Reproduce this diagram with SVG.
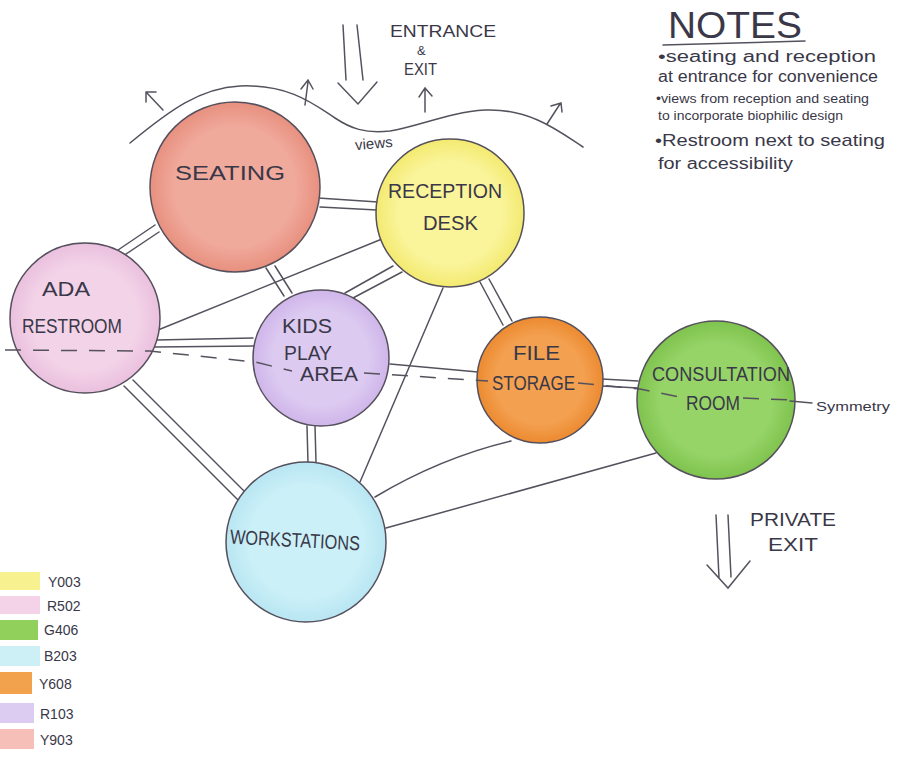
<svg xmlns="http://www.w3.org/2000/svg" width="897" height="762" viewBox="0 0 897 762">
<style>
.bg{fill:#ffffff}
.node{stroke:#55505c;stroke-width:1.5}
.lbl{font-family:"Liberation Sans",Arial,sans-serif;fill:#3a3848;font-size:20px}
.note{font-family:"Liberation Sans",Arial,sans-serif;fill:#3a3848}
.c{stroke:#55525e;stroke-width:1.5;fill:none;stroke-linecap:round}
.d{stroke:#55525e;stroke-width:1.5;fill:none;stroke-dasharray:16 12}
.sym{font-family:"Liberation Sans",Arial,sans-serif;fill:#3a3848;font-size:13px}
</style>
<defs>
<radialGradient id="gSeat" cx="0.5" cy="0.5" r="0.5"><stop offset="0.7" stop-color="#f0aa9c"/><stop offset="1" stop-color="#e8907f"/></radialGradient>
<radialGradient id="gRec" cx="0.5" cy="0.5" r="0.5"><stop offset="0.7" stop-color="#faf49a"/><stop offset="1" stop-color="#f3ea70"/></radialGradient>
<radialGradient id="gAda" cx="0.5" cy="0.5" r="0.5"><stop offset="0.7" stop-color="#f3d3e8"/><stop offset="1" stop-color="#eac0de"/></radialGradient>
<radialGradient id="gKid" cx="0.5" cy="0.5" r="0.5"><stop offset="0.7" stop-color="#dccaf1"/><stop offset="1" stop-color="#cfb6ea"/></radialGradient>
<radialGradient id="gFile" cx="0.5" cy="0.5" r="0.5"><stop offset="0.7" stop-color="#f3a050"/><stop offset="1" stop-color="#ec8a30"/></radialGradient>
<radialGradient id="gCon" cx="0.5" cy="0.5" r="0.5"><stop offset="0.7" stop-color="#96d468"/><stop offset="1" stop-color="#7fc34e"/></radialGradient>
<radialGradient id="gWork" cx="0.5" cy="0.5" r="0.5"><stop offset="0.7" stop-color="#cbf0f8"/><stop offset="1" stop-color="#b8e6f2"/></radialGradient>
</defs>
<rect class="bg" x="0" y="0" width="897" height="762"/>

<!-- views curve and arrows -->
<g id="views">
<path class="c" d="M130,143 C170,110 200,88 240,86 C290,84 315,105 335,118 C350,128 365,134 390,131 C420,126 450,112 485,110 C530,108 560,132 583,147"/>
<path class="c" d="M163,110 L146,92 M146,92 L146,102 M146,92 L156,92"/>
<path class="c" d="M305,105 L308,82 M301,89 L308,80 L313,89"/>
<path class="c" d="M425,112 L425,90 M419,97 L425,88 L432,96"/>
<path class="c" d="M547,124 L560,104 M551,106 L561,103 L562,112"/>
<text class="note" x="355" y="148" font-size="15" transform="rotate(-5 380 143)">views</text>
</g>

<!-- entrance arrow -->
<g id="entrance">
<path class="c" d="M343,25 L346,80 M357,25 L363,80 M338,83 L358,104 L377,82"/>
<text class="note" x="390" y="37" font-size="17" textLength="106" lengthAdjust="spacingAndGlyphs">ENTRANCE</text>
<text class="note" x="417" y="55" font-size="13">&amp;</text>
<text class="note" x="404" y="75" font-size="17" textLength="33" lengthAdjust="spacingAndGlyphs">EXIT</text>
</g>

<!-- connectors -->
<g id="connectors">
<line class="c" x1="318" y1="198" x2="378" y2="202"/>
<line class="c" x1="320" y1="207" x2="377" y2="210"/>
<line class="c" x1="118" y1="250" x2="155" y2="225"/>
<line class="c" x1="123" y1="256" x2="159" y2="232"/>
<line class="c" x1="266" y1="268" x2="284" y2="296"/>
<line class="c" x1="275" y1="266" x2="292" y2="293"/>
<line class="c" x1="158" y1="330" x2="382" y2="239"/>
<line class="c" x1="345" y1="293" x2="393" y2="266"/>
<line class="c" x1="353" y1="298" x2="402" y2="272"/>
<line class="c" x1="156" y1="340" x2="253" y2="338"/>
<line class="c" x1="155" y1="347" x2="254" y2="346"/>
<line class="c" x1="480" y1="282" x2="503" y2="325"/>
<line class="c" x1="489" y1="279" x2="512" y2="321"/>
<line class="c" x1="443" y1="288" x2="360" y2="482"/>
<line class="c" x1="390" y1="364" x2="478" y2="372"/>
<line class="c" x1="602" y1="379" x2="638" y2="381"/>
<line class="c" x1="602" y1="386" x2="638" y2="388"/>
<line class="c" x1="124" y1="386" x2="239" y2="501"/>
<line class="c" x1="133" y1="380" x2="247" y2="494"/>
<line class="c" x1="307" y1="426" x2="308" y2="463"/>
<line class="c" x1="315" y1="426" x2="316" y2="462"/>
<path class="c" d="M511,441 Q440,458 375,497"/>
<line class="c" x1="656" y1="453" x2="386" y2="528"/>
</g>

<!-- nodes -->
<g id="seating">
<circle class="node" cx="235" cy="187" r="85" fill="url(#gSeat)"/>
<text class="lbl" x="175" y="180" textLength="110" lengthAdjust="spacingAndGlyphs">SEATING</text>
</g>
<g id="reception">
<circle class="node" cx="450" cy="213" r="74" fill="url(#gRec)"/>
<text class="lbl" x="388" y="198" textLength="114" lengthAdjust="spacingAndGlyphs">RECEPTION</text>
<text class="lbl" x="423" y="230" textLength="55" lengthAdjust="spacingAndGlyphs">DESK</text>
</g>
<g id="ada">
<circle class="node" cx="85" cy="318" r="75" fill="url(#gAda)"/>
<text class="lbl" x="42" y="296" textLength="48" lengthAdjust="spacingAndGlyphs">ADA</text>
<text class="lbl" x="22" y="333" textLength="100" lengthAdjust="spacingAndGlyphs">RESTROOM</text>
</g>
<g id="kids">
<circle class="node" cx="321" cy="358" r="68" fill="url(#gKid)"/>
<text class="lbl" x="282" y="333" textLength="50" lengthAdjust="spacingAndGlyphs">KIDS</text>
<text class="lbl" x="284" y="360" textLength="48" lengthAdjust="spacingAndGlyphs">PLAY</text>
<text class="lbl" x="300" y="381" textLength="58" lengthAdjust="spacingAndGlyphs">AREA</text>
</g>
<g id="file">
<circle class="node" cx="540" cy="380" r="63" fill="url(#gFile)"/>
<text class="lbl" x="513" y="360" textLength="47" lengthAdjust="spacingAndGlyphs">FILE</text>
<text class="lbl" x="492" y="390" textLength="83" lengthAdjust="spacingAndGlyphs">STORAGE</text>
</g>
<g id="consultation">
<circle class="node" cx="716" cy="400" r="79" fill="url(#gCon)"/>
<text class="lbl" x="652" y="381" textLength="138" lengthAdjust="spacingAndGlyphs">CONSULTATION</text>
<text class="lbl" x="686" y="410" textLength="54" lengthAdjust="spacingAndGlyphs">ROOM</text>
</g>
<g id="workstations">
<circle class="node" cx="306" cy="542" r="80" fill="url(#gWork)"/>
<text class="lbl" x="230" y="547" textLength="130" lengthAdjust="spacingAndGlyphs" transform="rotate(3 295 540)">WORKSTATIONS</text>
</g>

<!-- symmetry line -->
<g id="symmetry">
<path class="d" d="M5,350 L150,351 L255,362 L292,371"/>
<path class="d" d="M364,373 L488,381"/>
<path class="d" d="M578,383 L640,389 L684,398"/>
<path class="d" d="M743,398 L790,400"/>
<line class="c" x1="790" y1="401" x2="812" y2="403"/>
<text class="sym" x="816" y="411" textLength="74" lengthAdjust="spacingAndGlyphs">Symmetry</text>
</g>

<!-- private exit -->
<g id="private-exit">
<path class="c" d="M716,515 L719,578 M728,515 L731,577 M707,565 L728,588 L750,561"/>
<text class="note" x="750" y="526" font-size="18" textLength="86" lengthAdjust="spacingAndGlyphs">PRIVATE</text>
<text class="note" x="768" y="551" font-size="18" textLength="50" lengthAdjust="spacingAndGlyphs">EXIT</text>
</g>

<!-- notes -->
<g id="notes">
<text class="note" x="668" y="38" font-size="36" textLength="134" lengthAdjust="spacingAndGlyphs">NOTES</text>
<line class="c" x1="663" y1="45" x2="805" y2="41"/>
<text class="note" x="658" y="62" font-size="16" textLength="218" lengthAdjust="spacingAndGlyphs">•seating and reception</text>
<text class="note" x="658" y="82" font-size="16" textLength="220" lengthAdjust="spacingAndGlyphs">at entrance for convenience</text>
<text class="note" x="656" y="103" font-size="12" textLength="213" lengthAdjust="spacingAndGlyphs">•views from reception and seating</text>
<text class="note" x="658" y="120" font-size="12" textLength="185" lengthAdjust="spacingAndGlyphs">to incorporate biophilic design</text>
<text class="note" x="655" y="146" font-size="17" textLength="230" lengthAdjust="spacingAndGlyphs">•Restroom next to seating</text>
<text class="note" x="658" y="169" font-size="16" textLength="135" lengthAdjust="spacingAndGlyphs">for accessibility</text>
</g>

<!-- legend -->
<g id="legend">
<rect x="0" y="572" width="40" height="18" fill="#f7f28f"/>
<rect x="0" y="596" width="40" height="18" fill="#f4d2e8"/>
<rect x="0" y="620" width="38" height="20" fill="#92d05c"/>
<rect x="0" y="646" width="40" height="20" fill="#cdf0f7"/>
<rect x="0" y="672" width="32" height="22" fill="#f2a24c"/>
<rect x="0" y="703" width="34" height="20" fill="#ddccf2"/>
<rect x="0" y="729" width="34" height="20" fill="#f6c0b8"/>
<text class="note" x="48" y="587" font-size="14">Y003</text>
<text class="note" x="47" y="611" font-size="14">R502</text>
<text class="note" x="44" y="635" font-size="14">G406</text>
<text class="note" x="44" y="661" font-size="14">B203</text>
<text class="note" x="39" y="689" font-size="14">Y608</text>
<text class="note" x="40" y="719" font-size="14">R103</text>
<text class="note" x="40" y="745" font-size="14">Y903</text>
</g>
</svg>
